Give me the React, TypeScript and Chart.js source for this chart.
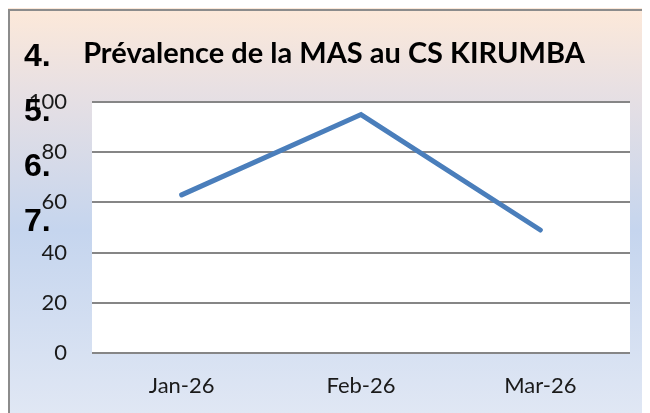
import React, { useEffect, useRef } from "react";
import { Chart, registerables } from "chart.js";

Chart.register(...registerables);

const categories = ["Jan-26", "Feb-26", "Mar-26"];
const prevalence = [63, 95, 49];
const yTicks = [0, 20, 40, 60, 80, 100];
const title = "Prévalence de la MAS au CS KIRUMBA";
const listMarkers = ["4.", "5.", "6.", "7."];

const W = 642;
const H = 405;

const bgPlugin = {
  id: "bgPlugin",
  beforeDraw(chart: any) {
    const { ctx, chartArea } = chart;
    ctx.save();
    const g = ctx.createLinearGradient(0, 0, 0, H);
    g.addColorStop(0, "#fde9d9");
    g.addColorStop(0.2, "#e8e0e3");
    g.addColorStop(0.55, "#c5d5ee");
    g.addColorStop(1, "#e0e7f4");
    ctx.fillStyle = g;
    ctx.fillRect(0, 0, W, H);
    ctx.strokeStyle = "#8c8c8c";
    ctx.lineWidth = 2;
    ctx.beginPath();
    ctx.moveTo(1, H);
    ctx.lineTo(1, 2);
    ctx.lineTo(W, 2);
    ctx.stroke();
    ctx.fillStyle = "#ffffff";
    ctx.fillRect(chartArea.left, chartArea.top, chartArea.right - chartArea.left, chartArea.bottom - chartArea.top);
    ctx.restore();
  },
  afterDraw(chart: any) {
    const { ctx } = chart;
    ctx.save();
    ctx.fillStyle = "#000";
    ctx.font = "bold 29px Lato";
    ctx.textAlign = "center";
    ctx.textBaseline = "middle";
    ctx.fillText(title, W / 2 + 5, 46);
    ctx.restore();
  },
};

export default function App() {
  const ref = useRef<HTMLCanvasElement | null>(null);
  useEffect(() => {
    if (!ref.current) return;
    const chart = new Chart(ref.current, {
      type: "line",
      data: {
        labels: categories,
        datasets: [
          {
            data: prevalence,
            borderColor: "#4a7ebb",
            borderWidth: 5,
            pointRadius: 0,
            tension: 0,
            borderCapStyle: "round",
          },
        ],
      },
      options: {
        animation: false,
        responsive: false,
        devicePixelRatio: 1,
        layout: { padding: { left: 0, right: 20, top: 94, bottom: 0 } },
        plugins: {
          legend: { display: false },
          tooltip: { enabled: false },
          title: { display: false },
        },
        scales: {
          x: {
            offset: true,
            grid: { display: false, drawTicks: false },
            border: { display: false },
            ticks: { color: "#1a1a1a", font: { family: "Lato", size: 22 }, padding: 20 },
            afterFit(s: any) {
              s.height = 60;
            },
          },
          y: {
            min: 0,
            max: 100,
            afterBuildTicks(s: any) {
              s.ticks = yTicks.map((v) => ({ value: v }));
            },
            grid: { color: "#868686", lineWidth: 2, drawTicks: false },
            border: { display: false },
            ticks: { color: "#1a1a1a", font: { family: "Lato", size: 22 }, padding: 25 },
            afterFit(s: any) {
              s.width = 84;
            },
          },
        },
      },
      plugins: [bgPlugin],
    });
    return () => chart.destroy();
  }, []);

  const markerTops = [32, 87, 142, 197];
  return (
    <div style={{ position: "relative", width: W, height: H }}>
      <canvas ref={ref} width={W} height={H} style={{ display: "block" }} />
      {listMarkers.map((m, i) => (
        <div
          key={m}
          style={{
            position: "absolute",
            left: 16,
            top: markerTops[i],
            fontFamily: "'Liberation Sans', Arial, sans-serif",
            fontWeight: "bold",
            fontSize: 32,
            lineHeight: "30px",
            color: "#000",
          }}
        >
          {m}
        </div>
      ))}
    </div>
  );
}
